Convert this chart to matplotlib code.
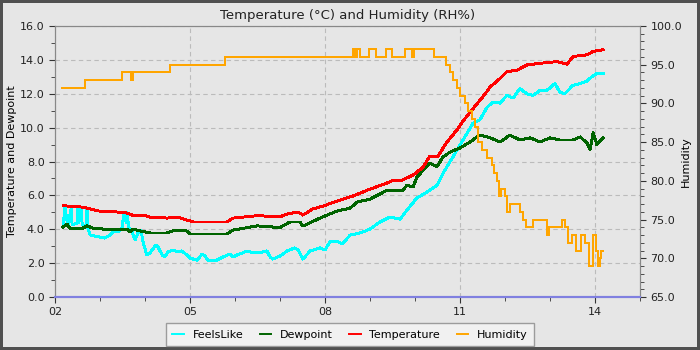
import numpy as np
import matplotlib
matplotlib.use("Agg")
import matplotlib.pyplot as plt
from matplotlib.ticker import MultipleLocator, FormatStrFormatter, FixedLocator

# hours of the day (decimal) and readings
temp_t = [2.18, 2.6, 2.71, 2.96, 3.38, 3.6, 3.71, 3.96, 4.11, 4.49, 4.71, 5.0, 5.07, 5.82,
          5.96, 6.49, 7.0, 7.16, 7.4, 7.51, 7.73, 7.96, 8.27, 8.62, 9.0, 9.38, 9.51, 9.67,
          9.96, 10.18, 10.33, 10.51, 10.71, 10.93, 11.07, 11.56, 11.67, 11.89, 12.04, 12.27,
          12.49, 12.78, 13.16, 13.38, 13.51, 13.82, 13.96, 14.18]
temp_v = [5.39, 5.31, 5.25, 5.08, 5.02, 4.96, 4.84, 4.84, 4.72, 4.66, 4.72, 4.49, 4.43, 4.43,
          4.66, 4.8, 4.74, 4.9, 5.02, 4.84, 5.2, 5.37, 5.67, 5.96, 6.37, 6.73, 6.9, 6.85,
          7.2, 7.67, 8.32, 8.32, 9.15, 9.86, 10.4, 12.0, 12.4, 12.9, 13.3, 13.4,
          13.7, 13.8, 13.9, 13.75, 14.2, 14.3, 14.5, 14.6]

dew_t = [2.18, 2.27, 2.33, 2.62, 2.71, 2.84, 3.07, 3.6, 3.67, 3.73, 4.11, 4.49, 4.62, 4.93,
         5.0, 5.82, 5.96, 6.49, 7.0, 7.22, 7.44, 7.51, 7.89, 8.27, 8.56, 8.71, 9.0, 9.38,
         9.51, 9.73, 9.82, 9.96, 10.04, 10.33, 10.49, 10.62, 10.78, 11.0, 11.22, 11.44,
         11.67, 11.89, 12.11, 12.33, 12.56, 12.78, 13.0, 13.22, 13.51, 13.67, 13.82, 13.89,
         13.96, 14.04, 14.18]
dew_v = [4.13, 4.3, 4.07, 4.07, 4.2, 4.07, 4.01, 4.01, 3.84, 4.0, 3.78, 3.78, 3.9, 3.9,
         3.72, 3.72, 3.95, 4.2, 4.1, 4.43, 4.43, 4.19, 4.66, 5.08, 5.25, 5.6, 5.78, 6.3,
         6.26, 6.3, 6.6, 6.5, 7.08, 7.9, 7.7, 8.26, 8.56, 8.8, 9.15, 9.56,
         9.4, 9.15, 9.56, 9.27, 9.4, 9.15, 9.4, 9.27, 9.27, 9.45, 9.1, 8.7,
         9.7, 9.0, 9.4]

feel_t = [2.18, 2.22, 2.27, 2.29, 2.36, 2.38, 2.49, 2.51, 2.53, 2.58, 2.6, 2.64, 2.69, 2.71,
          2.73, 2.78, 3.0, 3.11, 3.22, 3.29, 3.4, 3.49, 3.53, 3.58, 3.6, 3.64, 3.71, 3.78,
          3.84, 3.91, 3.96, 4.04, 4.11, 4.24, 4.29, 4.38, 4.44, 4.51, 4.62, 4.73, 4.82, 4.93,
          5.0, 5.07, 5.16, 5.27, 5.33, 5.4, 5.6, 5.73, 5.89, 5.96, 6.04, 6.22, 6.33, 6.49,
          6.62, 6.71, 6.78, 6.84, 7.0, 7.16, 7.33, 7.4, 7.51, 7.67, 7.89, 8.0, 8.11, 8.27,
          8.38, 8.56, 8.78, 9.0, 9.22, 9.44, 9.67, 9.82, 10.04, 10.27, 10.49, 10.62, 10.84,
          11.0, 11.29, 11.44, 11.6, 11.73, 11.89, 12.04, 12.18, 12.33, 12.49, 12.62, 12.78,
          12.93, 13.11, 13.22, 13.33, 13.51, 13.67, 13.82, 13.93, 14.04, 14.18]
feel_v = [4.2, 5.3, 4.43, 4.25, 5.25, 4.25, 4.37, 5.25, 4.4, 5.25, 4.4, 4.13, 4.13, 5.25,
          4.07, 3.66, 3.54, 3.48, 3.66, 3.84, 3.84, 4.07, 4.96, 4.4, 5.0, 4.07, 3.84, 3.36,
          3.78, 3.95, 3.19, 2.48, 2.6, 3.07, 2.95, 2.48, 2.36, 2.66, 2.78, 2.66, 2.72, 2.48,
          2.3, 2.24, 2.18, 2.54, 2.42, 2.18, 2.18, 2.36, 2.54, 2.36, 2.48, 2.66, 2.66, 2.62,
          2.66, 2.72, 2.36, 2.24, 2.42, 2.72, 2.9, 2.78, 2.24, 2.72, 2.9, 2.78, 3.25, 3.3,
          3.13, 3.66, 3.78, 4.01, 4.43, 4.72, 4.6, 5.13, 5.84, 6.2, 6.6, 7.3, 8.26,
          8.97, 10.27, 10.45, 11.2, 11.5, 11.45, 11.9, 11.75, 12.3, 12.0, 11.9, 12.2,
          12.2, 12.6, 12.1, 12.0, 12.5, 12.6, 12.75, 13.0, 13.2, 13.2]

hum_t = [2.16, 2.67, 3.49, 3.69, 3.73, 4.56, 5.78, 8.62, 8.67, 8.71, 8.78, 8.98, 9.13, 9.36,
         9.49, 9.78, 9.93, 9.98, 10.42, 10.69, 10.78, 10.84, 10.93, 11.0, 11.11, 11.18,
         11.27, 11.33, 11.4, 11.49, 11.6, 11.71, 11.76, 11.82, 11.86, 11.91, 12.0, 12.04,
         12.1, 12.33, 12.4, 12.47, 12.62, 12.93, 12.98, 13.27, 13.33, 13.4, 13.49, 13.58,
         13.69, 13.78, 13.87, 13.96, 14.02, 14.07, 14.11, 14.13, 14.18]
hum_v = [92, 93, 94, 93, 94, 95, 96, 97, 96, 97, 96, 97, 96, 97,
         96, 97, 96, 97, 96, 95, 94, 93, 92, 91, 90, 89,
         88, 87, 85, 84, 83, 82, 81, 80, 78, 79, 78, 76,
         77, 76, 75, 74, 75, 73, 74, 75, 74, 72, 73, 71,
         73, 72, 69, 73, 71, 69, 70, 71, 71]

hour_ticks = [2, 5, 8, 11, 14]
hour_labels = ["02", "05", "08", "11", "14"]

bg = "#e6e6e6"
fig = plt.figure(figsize=(7, 3.5), dpi=100, facecolor=bg, edgecolor="#505050", linewidth=4)
ax = fig.add_axes([0.0786, 0.1514, 0.8357, 0.7743])
ax.set_facecolor(bg)

l1, = ax.plot(feel_t, feel_v, color="#00ffff", lw=1.4, label="FeelsLike", antialiased=False)
l2, = ax.plot(dew_t, dew_v, color="#006400", lw=1.4, label="Dewpoint", antialiased=False)
l3, = ax.plot(temp_t, temp_v, color="#ff0000", lw=1.4, label="Temperature", antialiased=False)

ax.set_xlim(2, 15)
ax.set_ylim(0, 16)
ax.xaxis.set_major_locator(FixedLocator(hour_ticks))
ax.set_xticklabels(hour_labels)
ax.xaxis.set_minor_locator(MultipleLocator(1))
ax.yaxis.set_major_locator(MultipleLocator(2))
ax.yaxis.set_minor_locator(MultipleLocator(1))
ax.yaxis.set_major_formatter(FormatStrFormatter("%.1f"))
ax.grid(True, which="major", color="#bbbbbb", linestyle=(0, (4, 3)), lw=0.8)
ax.tick_params(labelsize=8, length=4, color="#333333", labelcolor="#222222")
ax.tick_params(which="minor", length=3, color="#333333")
ax.set_ylabel("Temperature and Dewpoint", fontsize=8, labelpad=2)
ax.set_title("Temperature (°C) and Humidity (RH%)", fontsize=9.5, color="#222222", pad=5)
for s in ["top", "left", "right"]:
    ax.spines[s].set_color("#888888")
ax.spines["bottom"].set_color("#8080e0")
ax.spines["bottom"].set_linewidth(1.5)

ax2 = ax.twinx()
l4, = ax2.plot(hum_t, hum_v, color="#ffa500", lw=1.4, drawstyle="steps-post",
               label="Humidity", antialiased=False)
ax2.set_ylim(65, 100)
ax2.yaxis.set_major_locator(MultipleLocator(5))
ax2.yaxis.set_minor_locator(MultipleLocator(1))
ax2.yaxis.set_major_formatter(FormatStrFormatter("%.1f"))
ax2.tick_params(labelsize=8, length=4, color="#333333", labelcolor="#222222")
ax2.tick_params(which="minor", length=3, color="#333333")
ax2.set_ylabel("Humidity", fontsize=8, labelpad=-1)
for s in ["top", "left", "right"]:
    ax2.spines[s].set_color("#888888")
ax2.spines["bottom"].set_color("#8080e0")
ax2.spines["bottom"].set_linewidth(1.5)

leg = fig.legend([l1, l2, l3, l4], ["FeelsLike", "Dewpoint", "Temperature", "Humidity"],
                 loc="lower center", bbox_to_anchor=(0.5, -0.005), ncol=4, fontsize=8,
                 frameon=True, fancybox=False, handlelength=1.0, columnspacing=1.5,
                 borderpad=0.6)
leg.get_frame().set_facecolor("#f5f5f5")
leg.get_frame().set_edgecolor("#888888")

fig.savefig("out.png", dpi=100, facecolor=fig.get_facecolor(), edgecolor=fig.get_edgecolor())
